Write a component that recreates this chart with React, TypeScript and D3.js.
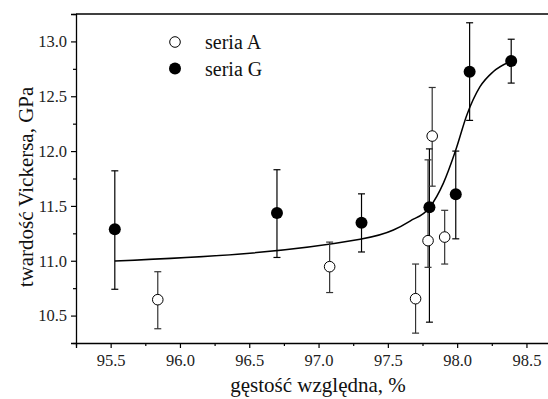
import React, { useEffect, useRef } from 'react';
import * as d3 from 'd3';

// seria A (open circles)
const densityA = [95.84, 97.08, 97.70, 97.79, 97.82, 97.91];
const hardnessA = [10.645, 10.946, 10.654, 11.183, 12.137, 11.216];
const lowA = [10.38, 10.71, 10.34, 10.94, 11.68, 10.97];
const highA = [10.90, 11.17, 10.97, 11.92, 12.58, 11.46];

// seria G (filled circles)
const densityG = [95.53, 96.70, 97.31, 97.80, 97.99, 98.09, 98.39];
const hardnessG = [11.287, 11.435, 11.347, 11.487, 11.606, 12.724, 12.821];
const lowG = [10.74, 11.03, 11.08, 10.44, 11.20, 12.28, 12.62];
const highG = [11.82, 11.83, 11.61, 12.02, 12.00, 13.17, 13.02];

// fitted curve
const fitX = [95.53, 97.30, 97.54, 97.66, 97.80, 97.90, 97.99, 98.07, 98.165, 98.26, 98.38];
const fitY = [10.998, 11.196, 11.28, 11.362, 11.484, 11.706, 12.01, 12.329, 12.587, 12.724, 12.815];

const xMajor = [95.5, 96.0, 96.5, 97.0, 97.5, 98.0, 98.5];
const xMinor = [95.25, 95.75, 96.25, 96.75, 97.25, 97.75, 98.25, 98.75];
const yMajor = [10.5, 11.0, 11.5, 12.0, 12.5, 13.0];
const yMinor = [10.25, 10.75, 11.25, 11.75, 12.25, 12.75, 13.25];

const W = 548;
const H = 399;
const FONT = '"Liberation Serif", "Times New Roman", serif';

const App: React.FC = () => {
  const svgRef = useRef<SVGSVGElement | null>(null);

  useEffect(() => {
    if (!svgRef.current) return;
    const svg = d3.select(svgRef.current);
    svg.selectAll('*').remove();

    const left = 76, top = 14, bottom = 343;
    const x = d3.scaleLinear().domain([95.25, 98.75]).range([left, left + 3.5 * 138.6]);
    const y = d3.scaleLinear().domain([10.25, 13.25]).range([bottom, top]);

    const fmt = d3.format('.1f');

    // axes
    const gx = svg.append('g').attr('transform', `translate(0,${bottom})`)
      .call(d3.axisBottom(x).tickValues(xMajor).tickFormat(d => fmt(d as number)).tickSize(5).tickPadding(6));
    svg.append('g').attr('transform', `translate(0,${bottom})`)
      .call(d3.axisBottom(x).tickValues(xMinor).tickFormat(() => '').tickSize(3))
      .select('.domain').remove();
    const gy = svg.append('g').attr('transform', `translate(${left},0)`)
      .call(d3.axisLeft(y).tickValues(yMajor).tickFormat(d => fmt(d as number)).tickSize(5).tickPadding(4));
    svg.append('g').attr('transform', `translate(${left},0)`)
      .call(d3.axisLeft(y).tickValues(yMinor).tickFormat(() => '').tickSize(3))
      .select('.domain').remove();

    [gx, gy].forEach(g => {
      g.attr('font-family', null).attr('font-size', null);
      g.select('.domain').attr('stroke-width', 1.3);
      g.selectAll('text')
        .style('font-family', FONT)
        .style('font-size', '16.5px')
        .attr('fill', '#222');
    });
    svg.selectAll('.tick line').attr('stroke-width', 1.2);

    // top frame line
    svg.append('line')
      .attr('x1', left).attr('x2', W + 20)
      .attr('y1', top).attr('y2', top)
      .attr('stroke', '#000').attr('stroke-width', 1.3);

    // fitted curve
    const line = d3.line<number>()
      .x((_, i) => x(fitX[i]))
      .y(d => y(d))
      .curve(d3.curveMonotoneX);
    svg.append('path')
      .attr('d', line(fitY))
      .attr('fill', 'none')
      .attr('stroke', '#000')
      .attr('stroke-width', 1.5);

    const cap = 3.5;
    const drawBars = (xs: number[], lo: number[], hi: number[], color: string) => {
      const g = svg.append('g').attr('stroke', color).attr('stroke-width', 1.2);
      xs.forEach((v, i) => {
        g.append('line').attr('x1', x(v)).attr('x2', x(v)).attr('y1', y(lo[i])).attr('y2', y(hi[i]));
        g.append('line').attr('x1', x(v) - cap).attr('x2', x(v) + cap).attr('y1', y(lo[i])).attr('y2', y(lo[i]));
        g.append('line').attr('x1', x(v) - cap).attr('x2', x(v) + cap).attr('y1', y(hi[i])).attr('y2', y(hi[i]));
      });
    };

    drawBars(densityG, lowG, highG, '#000');
    drawBars(densityA, lowA, highA, '#333');

    svg.append('g').selectAll('circle')
      .data(densityG)
      .join('circle')
      .attr('cx', d => x(d))
      .attr('cy', (_, i) => y(hardnessG[i]))
      .attr('r', 6)
      .attr('fill', '#000');

    svg.append('g').selectAll('circle')
      .data(densityA)
      .join('circle')
      .attr('cx', d => x(d))
      .attr('cy', (_, i) => y(hardnessA[i]))
      .attr('r', 5.3)
      .attr('fill', '#fff')
      .attr('stroke', '#000')
      .attr('stroke-width', 1);

    // legend
    const leg = svg.append('g');
    leg.append('circle').attr('cx', 175).attr('cy', 42).attr('r', 5.3)
      .attr('fill', '#fff').attr('stroke', '#000').attr('stroke-width', 1);
    leg.append('circle').attr('cx', 175).attr('cy', 68.5).attr('r', 6).attr('fill', '#000');
    leg.append('text').attr('x', 205).attr('y', 49).text('seria A')
      .style('font-family', FONT).style('font-size', '20px').attr('fill', '#111');
    leg.append('text').attr('x', 205).attr('y', 76).text('seria G')
      .style('font-family', FONT).style('font-size', '20px').attr('fill', '#111');

    // axis titles
    svg.append('text')
      .attr('x', 318).attr('y', 392)
      .attr('text-anchor', 'middle')
      .style('font-family', FONT).style('font-size', '21px').attr('fill', '#111')
      .text('gęstość względna, %');
    svg.append('text')
      .attr('transform', 'translate(33,187) rotate(-90)')
      .attr('text-anchor', 'middle')
      .style('font-family', FONT).style('font-size', '21px').attr('fill', '#111')
      .text('twardość Vickersa, GPa');
  }, []);

  return (
    <svg ref={svgRef} width={W} height={H}
      style={{ position: 'absolute', left: 0, top: 0, background: '#fff' }} />
  );
};

export default App;
